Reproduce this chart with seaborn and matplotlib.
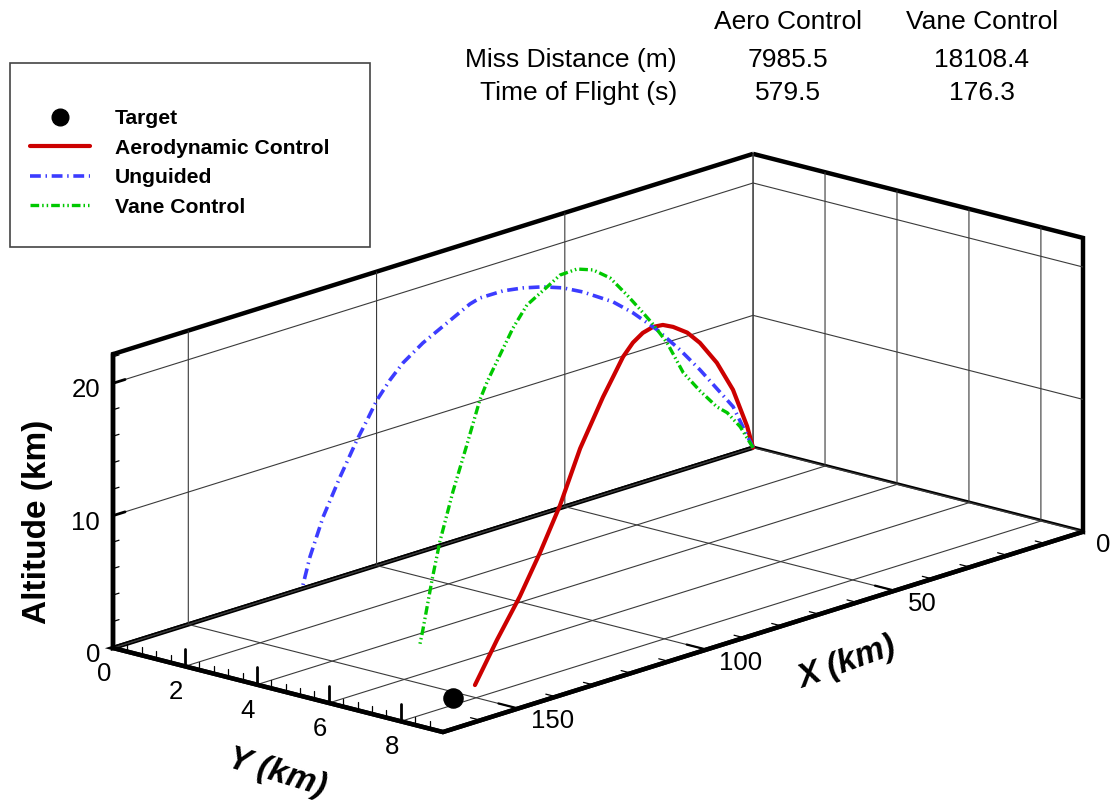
import numpy as np
import seaborn as sns
import matplotlib
matplotlib.use("Agg")
import matplotlib.pyplot as plt
from matplotlib.lines import Line2D
from matplotlib.patches import Rectangle
from mpl_toolkits.mplot3d import proj3d

# ---------------------------------------------------------------------------
# Trajectory samples: downrange X (km), crossrange Y (km), altitude Z (km)
# ---------------------------------------------------------------------------
unguided_x = [0, 5.3, 14.1, 19.4, 25.5, 31.9, 37.2, 45.2, 50.5, 55.8, 61.1,
              66.4, 72.5, 75.2, 81.3, 87.7, 93.0, 96.4, 99.9, 102.5, 105.2,
              109.7, 114.2, 117.7, 119.8]
unguided_y = [0, 0, 0, 0, 0, 0, 0, 0, 0, 0, 0,
              0, 0, 0, 0, 0, 0, 0, 0, 0, 0,
              0, 0, 0, 0]
unguided_z = [0, 3.57, 7.14, 9.12, 11.18, 13.03, 14.33, 15.79, 16.57, 17.12,
              17.51, 17.76, 17.77, 17.55, 16.66, 15.72, 14.68, 13.71, 12.49,
              11.22, 9.95, 7.55, 4.93, 2.22, 0]

aero_x = [0, 3.1, 10.4, 18.7, 27.5, 34.2, 41.5, 46.7, 51.9, 57.1, 62.2,
          67.4, 72.6, 77.8, 89.7, 100.1, 110.5, 120.9, 132.8, 144.2]
aero_y = [0, 0.16, 0.53, 0.95, 1.40, 1.75, 2.12, 2.38, 2.65, 2.91, 3.17,
          3.44, 3.71, 3.97, 4.58, 5.11, 5.64, 6.17, 6.78, 7.36]
aero_z = [0, 2.0, 5.67, 8.74, 11.34, 12.95, 14.29, 15.08, 15.58, 15.77,
          15.67, 15.25, 14.4, 13.5, 11.1, 8.1, 5.8, 3.8, 2.0, 0]

vane_x = [0, 5.15, 10.3, 14.3, 21.0, 27.7, 34.1, 39.6, 44.8, 50.0, 56.7,
          63.4, 69.8, 76.5, 81.7, 89.6, 95.1, 100.3, 105.4, 108.2, 113.4,
          118.9, 124.1, 127.2, 130.8, 132.0]
vane_y = [0, 0.18, 0.36, 0.49, 0.72, 0.96, 1.18, 1.37, 1.55, 1.73, 1.96,
          2.19, 2.41, 2.64, 2.82, 3.09, 3.28, 3.46, 3.64, 3.73, 3.91,
          4.10, 4.28, 4.39, 4.51, 4.55]
vane_z = [0, 2.17, 3.81, 4.70, 6.67, 8.79, 11.77, 13.78, 15.5, 17.18, 19.23,
          20.59, 21.38, 21.68, 21.36, 20.89, 19.78, 18.32, 16.89, 15.83, 13.0,
          10.1, 6.9, 4.4, 1.0, 0]

target_xyz = [152.9, 7.66, 0.0]

# Axis extents and ticks
x_limits = [0, 170]
y_limits = [0, 9.17]
z_limits = [0, 22.2]
x_ticks = [0, 50, 100, 150]
y_ticks = [0, 2, 4, 6, 8]
z_ticks = [0, 10, 20]
x_minor_step, y_minor_step, z_minor_step = 10, 0.4, 2

# Summary table
table_columns = ["Aero Control", "Vane Control"]
table_rows = ["Miss Distance (m)", "Time of Flight (s)"]
table_values = [["7985.5", "18108.4"], ["579.5", "176.3"]]

series_labels = ["Target", "Aerodynamic Control", "Unguided", "Vane Control"]

# ---------------------------------------------------------------------------
sns.set_theme(style="white")
plt.rcParams["font.family"] = ["Liberation Sans", "DejaVu Sans"]
for key in ("text.color", "axes.labelcolor", "xtick.color", "ytick.color"):
    plt.rcParams[key] = "black"
plt.rcParams["grid.color"] = "#3a3a3a"
plt.rcParams["grid.linewidth"] = 0.8
plt.rcParams["grid.linestyle"] = "-"

W, H = 1117, 810
fig = plt.figure(figsize=(W / 100, H / 100), dpi=100, facecolor="white")
ax = fig.add_axes([0, 0, 1, 1], projection="3d", proj_type="ortho")

red = "#cc0000"
blue = "#3c3cff"
green = "#00c800"
blue_dash = (0, (3.0, 1.3, 0.4, 1.3))
green_dash = (0, (2.6, 0.9, 0.45, 0.9, 0.45, 0.9))

ax.plot(aero_x, aero_y, aero_z, color=red, lw=3.0)
ax.plot(unguided_x, unguided_y, unguided_z, color=blue, lw=2.6,
        linestyle=blue_dash)
ax.plot(vane_x, vane_y, vane_z, color=green, lw=2.4, linestyle=green_dash)
ax.scatter([target_xyz[0]], [target_xyz[1]], [target_xyz[2]], s=190,
           color="black", depthshade=False)

ax.set_xlim(*x_limits)
ax.set_ylim(*y_limits)
ax.set_zlim(*z_limits)
ax.set_xticks(x_ticks)
ax.set_yticks(y_ticks)
ax.set_zticks(z_ticks)
ax.set_xticklabels([])
ax.set_yticklabels([])
ax.set_zticklabels([])

ax.view_init(elev=16.4, azim=42.06)
ax.set_box_aspect((955.7, 444.5, 306.4))
ax.grid(True)

for axis in (ax.xaxis, ax.yaxis, ax.zaxis):
    axis.set_pane_color((1, 1, 1, 1))
    axis.pane.set_edgecolor("black")
    axis.pane.set_linewidth(3.2)
    axis.line.set_color("black")
    axis.line.set_linewidth(3.2)
    axis._axinfo["axisline"]["linewidth"] = 3.2
    axis._axinfo["tick"]["inward_factor"] = 0.0
    axis._axinfo["tick"]["outward_factor"] = 0.0
    axis._axinfo["grid"]["color"] = "#3a3a3a"
    axis._axinfo["grid"]["linewidth"] = 0.8

# Tick marks drawn on the box edges: Y ticks stand up from the front floor
# edge, X ticks point into the floor, Z ticks point into the back wall.
xmax, ymax = x_limits[1], y_limits[1]
for yv in np.arange(0, ymax, y_minor_step):
    major = any(abs(yv - t) < 1e-6 for t in y_ticks[1:])
    ax.plot([xmax, xmax], [yv, yv], [0, 1.3 if major else 0.6],
            color="black", lw=2.0 if major else 0.9)
for xv in np.arange(x_minor_step, xmax, x_minor_step):
    major = any(abs(xv - t) < 1e-6 for t in x_ticks)
    ax.plot([xv, xv], [ymax, ymax - (0.55 if major else 0.28)], [0, 0],
            color="black", lw=1.6 if major else 0.9)
for zv in np.arange(z_minor_step, z_limits[1], z_minor_step):
    major = any(abs(zv - t) < 1e-6 for t in z_ticks)
    ax.plot([xmax, xmax - (3.2 if major else 1.6)], [0, 0], [zv, zv],
            color="black", lw=2.0 if major else 0.9)

# Place the plotting box: scale/shift the square 3D axes so the frame
# spans the intended pixel region of the figure.
fig.canvas.draw()


def to_px(x, y, z):
    xs, ys, _ = proj3d.proj_transform(x, y, z, ax.M)
    return np.asarray(ax.transData.transform((xs, ys)))


left_corner = to_px(x_limits[1], y_limits[0], z_limits[0])
right_corner = to_px(x_limits[0], y_limits[1], z_limits[0])
pos = ax.get_position()
size_old = pos.width * W
origin_old = np.array([pos.x0 * W, pos.y0 * H])
frame_left, frame_right, frame_left_y = 113, 1083, H - 648
size_new = size_old * (frame_right - frame_left) / (right_corner[0] - left_corner[0])
frac = (left_corner - origin_old) / size_old
x0_new = frame_left - size_new * frac[0]
y0_new = frame_left_y - size_new * frac[1]
ax.set_position([x0_new / W, y0_new / H, size_new / W, size_new / H])
fig.canvas.draw()

# Tick labels next to their tick positions on the box edges
tick_font = 18.5
for zv in z_ticks:
    px, py = to_px(xmax, 0, zv)
    fig.text((px - 13) / W, (py - 7) / H, str(zv), fontsize=tick_font,
             ha="right", va="center")
for yv in y_ticks:
    px, py = to_px(xmax, yv, 0)
    fig.text((px - 9) / W, (py - 26) / H, str(yv), fontsize=tick_font,
             ha="center", va="center")
for xv in x_ticks:
    px, py = to_px(xv, ymax, 0)
    fig.text((px + 13) / W, (py - 13) / H, str(xv), fontsize=tick_font,
             ha="left", va="center")

# Axis titles
fig.text(38 / W, 1 - 522 / H, "Altitude (km)", rotation=90, fontsize=24,
         fontweight="bold", ha="center", va="center")
fig.text(277 / W, 1 - 773 / H, "Y (km)", rotation=-17, fontsize=24,
         fontweight="bold", fontstyle="italic", ha="center", va="center",
         rotation_mode="anchor")
fig.text(847 / W, 1 - 663 / H, "X (km)", rotation=20, fontsize=24,
         fontweight="bold", fontstyle="italic", ha="center", va="center",
         rotation_mode="anchor")

# Summary table
col_x = [788, 982]
row_y = [60, 93]
for cx, name in zip(col_x, table_columns):
    fig.text(cx / W, 1 - 22 / H, name, fontsize=19, ha="center", va="center")
for ry, name, vals in zip(row_y, table_rows, table_values):
    fig.text(677 / W, 1 - ry / H, name, fontsize=19, ha="right", va="center")
    for cx, v in zip(col_x, vals):
        fig.text(cx / W, 1 - ry / H, v, fontsize=19, ha="center", va="center")

# Legend
handles = [
    Line2D([], [], linestyle="none", marker="o", markersize=12,
           color="black"),
    Line2D([], [], color=red, lw=3.0),
    Line2D([], [], color=blue, lw=2.6, linestyle=blue_dash),
    Line2D([], [], color=green, lw=2.4, linestyle=green_dash),
]
fig.legend(handles, series_labels, loc="upper left",
           bbox_to_anchor=(30 / W, 1 - 109 / H), frameon=False,
           prop={"weight": "bold", "size": 15.2}, handlelength=2.84,
           handletextpad=1.18, labelspacing=0.50, borderpad=0,
           borderaxespad=0)
fig.add_artist(Rectangle((10 / W, 1 - 247 / H), 360 / W, 184 / H,
                         transform=fig.transFigure, fill=False,
                         edgecolor="#444444", lw=1.2))

fig.savefig("out.png", dpi=100, facecolor="white")
